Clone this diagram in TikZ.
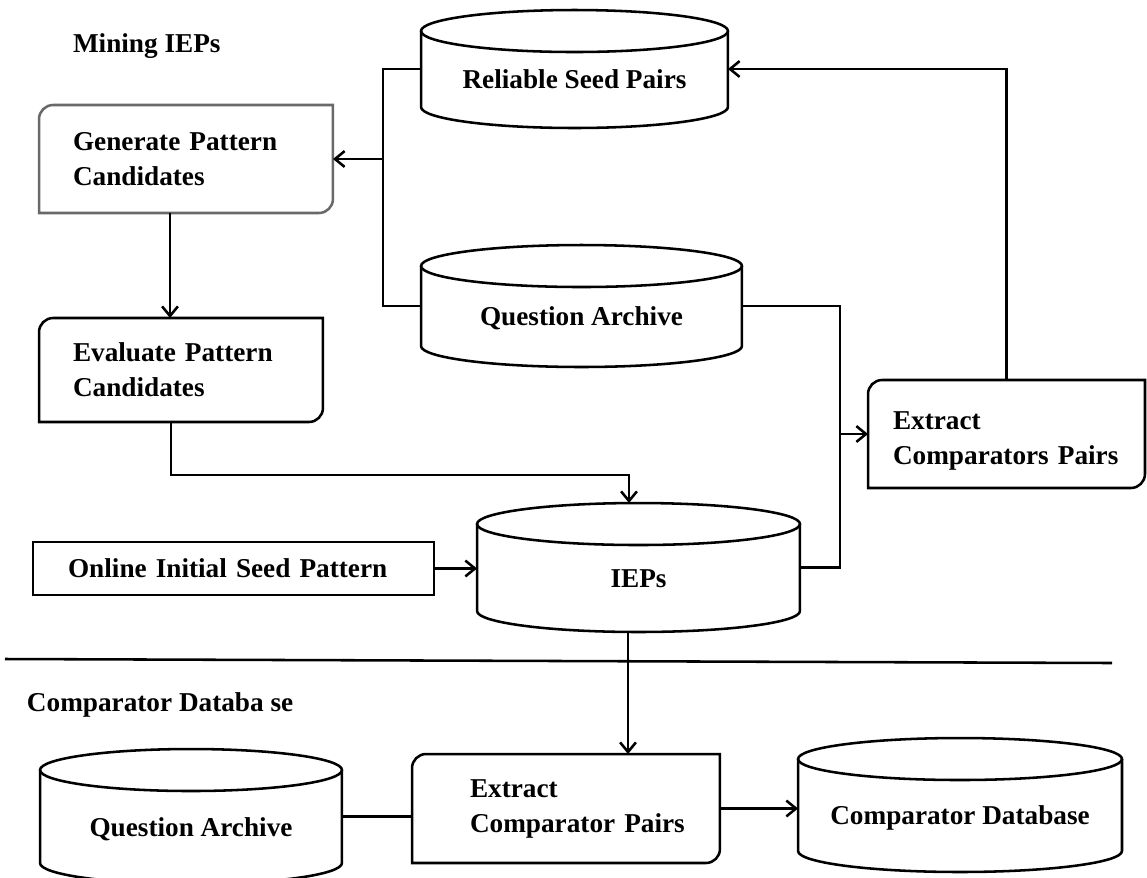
\documentclass[tikz,border=0pt]{standalone}
\usepackage{fontspec}
\setmainfont{Liberation Serif}
\usetikzlibrary{arrows.meta,calc}
\definecolor{edgegray}{RGB}{105,105,105}
\newcommand{\halfround}[2][black]{%
  \draw[conn,draw=#1] ([yshift=-8pt]#2.north west) arc[start angle=180,end angle=90,radius=8pt]
    -- (#2.north east) -- ([yshift=8pt]#2.south east) arc[start angle=0,end angle=-90,radius=8pt]
    -- (#2.south west) -- cycle;}
\newcommand{\drawcyl}[2]{%
  \draw[conn] ([yshift=-0.42cm]#1.north west) -- ([yshift=0.42cm]#1.south west)
    arc[start angle=180,end angle=360,x radius=#2,y radius=0.42cm]
    -- ([yshift=-0.42cm]#1.north east);
  \draw[conn] ([yshift=-0.42cm]#1.north) ellipse[x radius=#2,y radius=0.42cm];}
\begin{document}
\begin{tikzpicture}[x=0.02cm,y=-0.02cm,
  every node/.style={font=\fontsize{15.5pt}{19.9pt}\selectfont\bfseries, outer sep=0pt},
  conn/.style={line width=1.45pt, line join=miter},
  arr/.style={conn, -{Straight Barb[length=5.5pt,width=9pt]}},
  procbox/.style={align=left, inner ysep=0pt},
  dbnode/.style={inner sep=0pt, text height=0.78cm, text depth=0pt},
  title/.style={anchor=base west, inner sep=0pt}]
\useasboundingbox (0,0) rectangle (1147,877);

% titles
\node[title] (mining) at (73,52) {Mining IEPs};
\node[title] (cdblabel) at (27,711) {Comparator Databa se};

% process boxes
\node[procbox, minimum width=5.88cm, minimum height=2.16cm, inner xsep=0.68cm, text width=4.52cm] (gen) at (186,159) {Generate Pattern\\Candidates};
\halfround[edgegray]{gen}
\node[procbox, minimum width=5.68cm, minimum height=2.08cm, inner xsep=0.68cm, text width=4.32cm] (eval) at (181,370) {Evaluate Pattern\\Candidates};
\halfround{eval}
\node[procbox, draw, line width=1.45pt, minimum width=8.02cm, minimum height=1.06cm, inner xsep=0.7cm, text width=6.62cm] (online) at (233.5,568.5) {Online Initial Seed Pattern};
\node[procbox, minimum width=5.54cm, minimum height=2.16cm, inner xsep=0.5cm, text width=4.54cm] (ecr) at (1006.5,434) {\rule{0pt}{0.64cm}Extract\\\mbox{Comparators Pairs}};
\halfround{ecr}
\node[procbox, minimum width=6.16cm, minimum height=2.18cm, inner xsep=1.16cm, text width=3.84cm] (ecp) at (566,808.5) {Extract\\\mbox{Comparator Pairs}};
\halfround{ecp}

% databases
\node[dbnode, minimum width=6.14cm, minimum height=2.36cm] (rsp) at (574.5,69) {Reliable Seed Pairs};
\drawcyl{rsp}{3.07cm}
\node[dbnode, minimum width=6.42cm, minimum height=2.44cm] (qa1) at (581.5,306) {Question Archive};
\drawcyl{qa1}{3.21cm}
\node[dbnode, minimum width=6.46cm, minimum height=2.58cm] (iep) at (638.5,567.5) {IEPs};
\drawcyl{iep}{3.23cm}
\node[dbnode, minimum width=6.04cm, minimum height=2.7cm] (qa2) at (191,816.5) {Question Archive};
\drawcyl{qa2}{3.02cm}
\node[dbnode, minimum width=6.48cm, minimum height=2.68cm] (cdb) at (960,805) {Comparator Database};
\drawcyl{cdb}{3.24cm}

% helper coordinates
\coordinate (busL) at (383,0);
\coordinate (busR) at (840,0);
\coordinate (vx) at (170,0);
\coordinate (evj) at (171,475);
\coordinate (iepup) at ([xshift=-0.19cm]iep.north);
\coordinate (iepdown) at ([xshift=-0.21cm]iep.south);
\coordinate (sepL) at (5,659);
\coordinate (sepR) at (1112,663);

% separator
\draw[conn] (sepL) -- (sepR);

% connectors
\draw[conn] (rsp.west) -- (rsp.west -| busL) |- (qa1.west);
\draw[arr] (gen.east -| busL) -- (gen.east);
\draw[arr] (gen.south -| vx) -- (eval.north -| vx);
\draw[arr] (eval.south -| evj) -- (evj) -| (iepup);
\draw[arr] (online.east) -- (online.east -| iep.west);
\draw[conn] (iep.east) -| (busR |- qa1.east) -- (qa1.east);
\draw[arr] (busR |- ecr.west) -- (ecr.west);
\draw[arr] (ecr.north) |- (rsp.east);
\draw[arr] (iepdown) -- (iepdown |- ecp.north);
\draw[conn] (qa2.east) -- (qa2.east -| ecp.west);
\draw[arr] (ecp.east) -- (ecp.east -| cdb.west);
\end{tikzpicture}
\end{document}
